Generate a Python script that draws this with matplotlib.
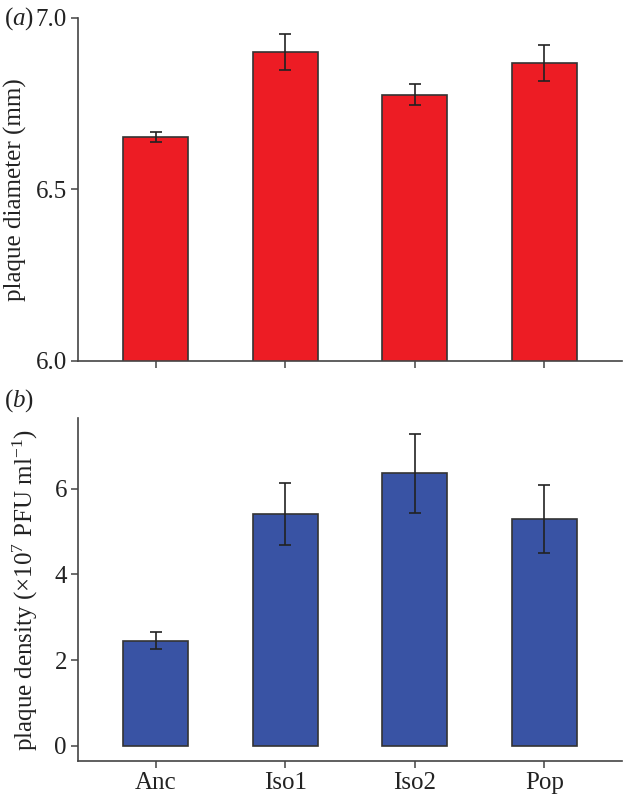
import matplotlib
matplotlib.use("Agg")
import matplotlib.pyplot as plt

plt.rcParams['font.family'] = ['Liberation Serif', 'DejaVu Serif']
plt.rcParams['mathtext.fontset'] = 'custom'
plt.rcParams['mathtext.rm'] = 'Liberation Serif'
plt.rcParams['mathtext.it'] = 'Liberation Serif:italic'

groups = ["Anc", "Iso1", "Iso2", "Pop"]
diameter = [6.653, 6.900, 6.776, 6.869]
diameter_err = [0.014, 0.052, 0.031, 0.052]
density = [2.45, 5.41, 6.36, 5.30]
density_err = [0.20, 0.72, 0.93, 0.79]

RED = "#ED1C24"
BLUE = "#3953A4"
EDGE = "#333333"
SPINE = "#444444"
FS = 18

fig = plt.figure(figsize=(6.24, 7.96), dpi=100)
ax1 = fig.add_axes([0.125, 0.5465, 0.872, 0.4309])
ax2 = fig.add_axes([0.125, 0.044, 0.872, 0.4305])

x = list(range(len(groups)))


def style(ax):
    for s in ["top", "right"]:
        ax.spines[s].set_visible(False)
    for s in ["left", "bottom"]:
        ax.spines[s].set_color(SPINE)
        ax.spines[s].set_linewidth(1.2)
    ax.tick_params(direction="out", length=5, width=1.1, color=SPINE,
                   labelsize=FS, labelcolor="#222222", pad=3)
    ax.set_xlim(-0.6, 3.6)
    ax.set_xticks(x)


# (a) plaque diameter
ax1.bar(x, diameter, width=0.5, color=RED, edgecolor=EDGE, linewidth=1.2)
ax1.errorbar(x, diameter, yerr=diameter_err, fmt="none", ecolor="#222222",
             elinewidth=1.2, capsize=4.5, capthick=1.2)
style(ax1)
ax1.set_ylim(6.0, 7.0)
ax1.set_yticks([6.0, 6.5, 7.0])
ax1.set_yticklabels(["6.0", "6.5", "7.0"])
ax1.set_xticklabels([])
ax1.set_ylabel("plaque diameter (mm)", fontsize=FS, color="#222222", labelpad=6)
fig.text(0.006, 0.977, "($a$)", fontsize=FS, va="center", ha="left", color="#222222")

# (b) plaque density
ax2.bar(x, density, width=0.5, color=BLUE, edgecolor=EDGE, linewidth=1.2)
ax2.errorbar(x, density, yerr=density_err, fmt="none", ecolor="#222222",
             elinewidth=1.2, capsize=4.5, capthick=1.2)
style(ax2)
ax2.set_ylim(-0.36, 7.65)
ax2.set_yticks([0, 2, 4, 6])
ax2.set_xticklabels(groups)
ax2.set_ylabel(r"plaque density (×10$^7$ PFU ml$^{-1}$)", fontsize=FS,
               color="#222222", labelpad=10)
fig.text(0.006, 0.497, "($b$)", fontsize=FS, va="center", ha="left", color="#222222")

fig.savefig("out.png", dpi=100)
